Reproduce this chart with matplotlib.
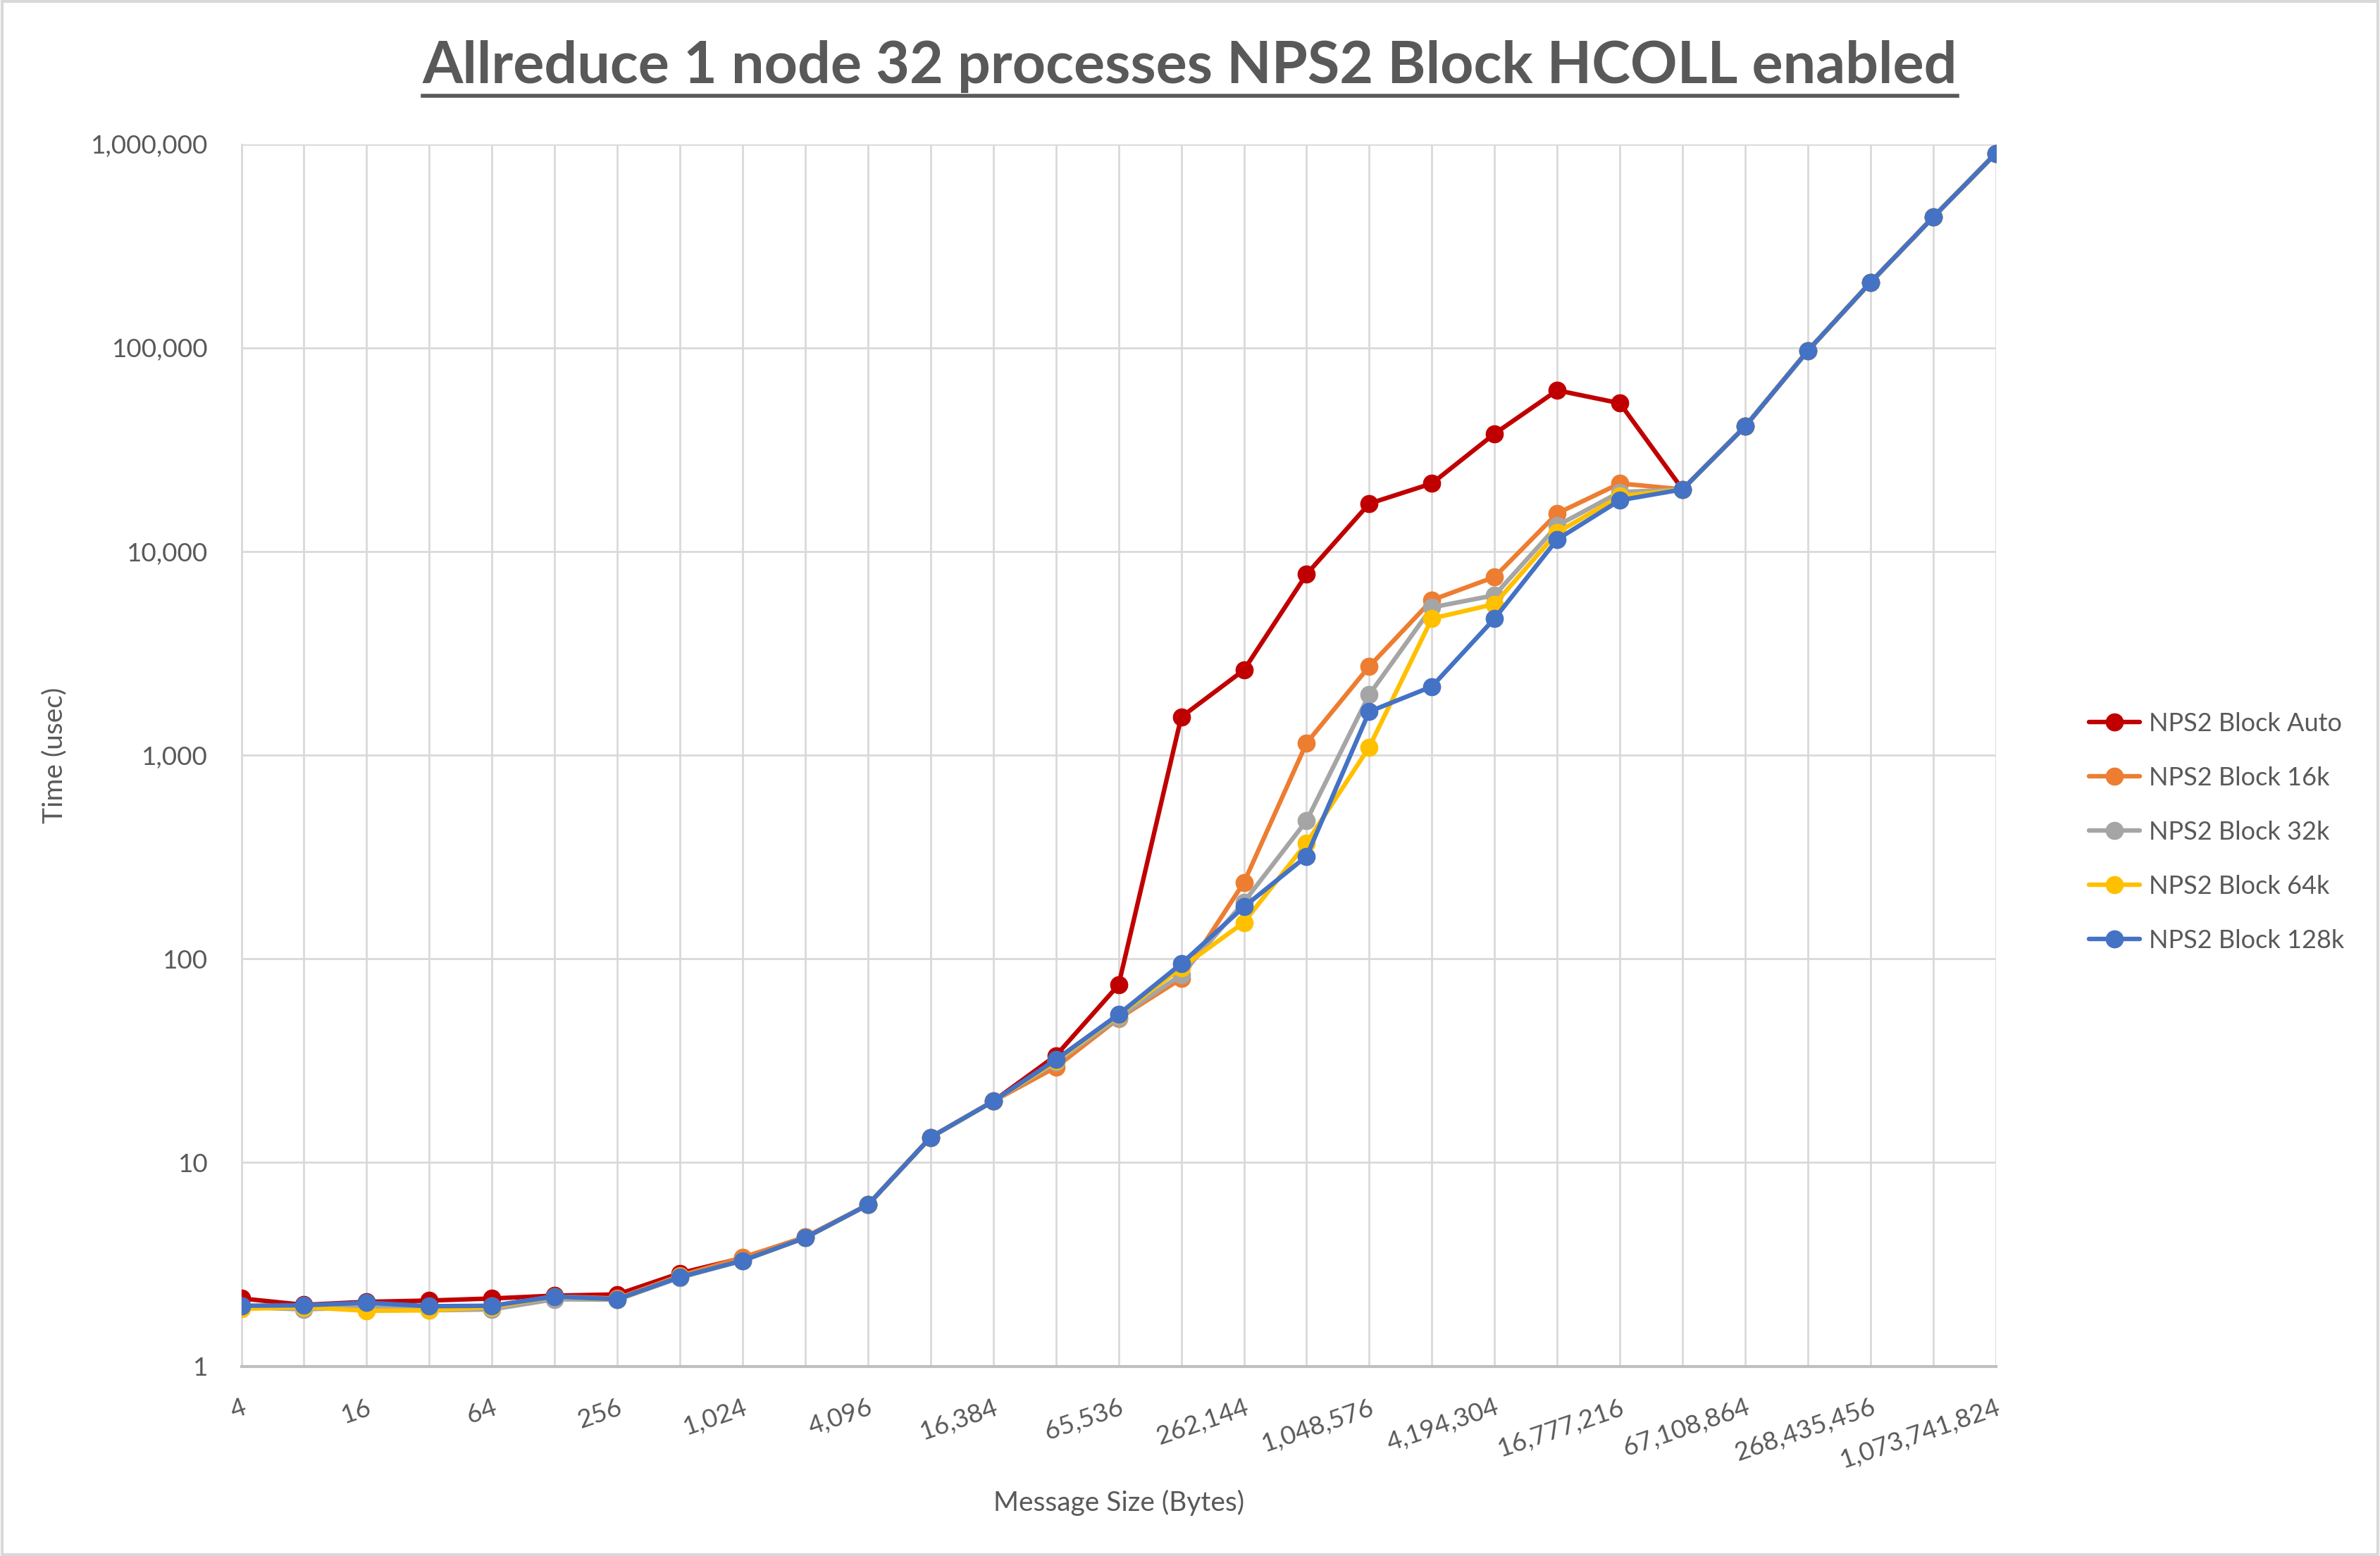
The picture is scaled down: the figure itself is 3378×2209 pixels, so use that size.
import matplotlib
matplotlib.use('Agg')
from matplotlib import pyplot as plt
from matplotlib.ticker import FixedLocator, FuncFormatter, NullLocator, NullFormatter
from matplotlib.patches import Rectangle

# message sizes 4 .. 1 GiB
sizes = [2 ** k for k in range(2, 31)]

auto = [2.15, 2.0, 2.07, 2.1, 2.15, 2.22, 2.25, 2.86, 3.4, 4.3, 6.2, 13.3, 20, 33.5, 74.5,
        1540, 2620, 7740, 17200, 21600, 37900, 61900, 53500, 20200, 41200, 96900, 209800, 438500, 902000]
blk_16k = [1.97, 1.95, 1.95, 1.95, 1.97, 2.2, 2.15, 2.78, 3.42, 4.3, 6.2, 13.3, 20, 29.4, 51,
           80, 237, 1148, 2730, 5780, 7500, 15400, 21600, 20200, 41200, 96900, 209800, 438500, 902000]
blk_32k = [1.95, 1.9, 1.95, 1.88, 1.9, 2.13, 2.12, 2.72, 3.3, 4.27, 6.2, 13.3, 20, 31, 51.5,
           83.5, 190, 477, 1985, 5320, 6100, 13400, 19600, 20200, 41200, 96900, 209800, 438500, 902000]
blk_64k = [1.91, 1.95, 1.87, 1.88, 1.95, 2.2, 2.12, 2.75, 3.3, 4.27, 6.2, 13.3, 20, 31.5, 53,
           90.4, 151, 371, 1096, 4690, 5520, 12400, 18700, 20200, 41200, 96900, 209800, 438500, 902000]
blk_128k = [1.98, 1.99, 2.05, 1.97, 1.98, 2.2, 2.13, 2.74, 3.3, 4.27, 6.2, 13.3, 20, 32, 53.4,
            94.6, 180, 319, 1637, 2174, 4690, 11470, 17860, 20200, 41200, 96900, 209800, 438500, 902000]

series = [('NPS2 Block Auto', auto, '#C00000'),
          ('NPS2 Block 16k', blk_16k, '#ED7D31'),
          ('NPS2 Block 32k', blk_32k, '#A5A5A5'),
          ('NPS2 Block 64k', blk_64k, '#FFC000'),
          ('NPS2 Block 128k', blk_128k, '#4472C4')]

plt.rcParams['font.family'] = ['Lato', 'DejaVu Sans']
text_color = '#595959'

fig = plt.figure(figsize=(33.78, 22.09), dpi=100)
ax = fig.add_axes([0.1014, 0.122, 0.7372, 0.7853])

for name, vals, color in series:
    ax.plot(sizes, vals, color=color, lw=4.6, marker='o', markersize=17.5, label=name,
            solid_capstyle='round', zorder=3)

ax.set_xscale('log', base=2)
ax.set_yscale('log')
ax.set_xlim(4, 2 ** 30)
ax.set_ylim(1, 1e6)

ax.xaxis.set_major_locator(FixedLocator([4 ** k for k in range(1, 16)]))
ax.xaxis.set_minor_locator(FixedLocator([2 ** k for k in range(3, 30, 2)]))
ax.xaxis.set_minor_formatter(NullFormatter())
ax.yaxis.set_major_locator(FixedLocator([10 ** k for k in range(7)]))
ax.yaxis.set_minor_locator(NullLocator())
ax.yaxis.set_minor_formatter(NullFormatter())
ax.xaxis.set_major_formatter(FuncFormatter(lambda v, p: f'{int(round(v)):,}'))
ax.yaxis.set_major_formatter(FuncFormatter(lambda v, p: f'{int(round(v)):,}'))

ax.grid(True, which='both', axis='x', color='#D9D9D9', lw=2)
ax.grid(True, which='major', axis='y', color='#D9D9D9', lw=2)
for s in ['top', 'right']:
    ax.spines[s].set_visible(False)
ax.spines['left'].set_color('#D9D9D9')
ax.spines['left'].set_linewidth(2)
ax.spines['bottom'].set_color('#BFBFBF')
ax.spines['bottom'].set_linewidth(3)
ax.tick_params(axis='both', which='both', length=0, labelsize=26.5, colors=text_color)
ax.tick_params(axis='y', pad=34)
ax.tick_params(axis='x', pad=30)
for lab in ax.get_xticklabels():
    lab.set_rotation(19)
    lab.set_ha('right')
    lab.set_va('top')
    lab.set_rotation_mode('anchor')

ax.set_xlabel('Message Size (Bytes)', fontsize=28, color=text_color, labelpad=18)
ax.set_ylabel('Time (usec)', fontsize=28, color=text_color, labelpad=24)

title = fig.text(0.5, 0.957, 'Allreduce 1 node 32 processes NPS2 Block HCOLL enabled',
                 ha='center', va='center', fontsize=59.5, fontweight='bold', color=text_color)

leg = ax.legend(loc='center left', bbox_to_anchor=(1.04, 0.437), frameon=False, fontsize=26,
                labelcolor=text_color, handlelength=2.0, labelspacing=1.22, handletextpad=0.35)

# underline the title across its own width
fig.canvas.draw()
bb = title.get_window_extent().transformed(fig.transFigure.inverted())
fig.add_artist(plt.Line2D([bb.x0, bb.x1], [0.9385, 0.9385], transform=fig.transFigure,
                          color=text_color, lw=4))

fig.add_artist(Rectangle((0.001, 0.001), 0.998, 0.998, transform=fig.transFigure,
                         fill=False, edgecolor='#D9D9D9', lw=3))

fig.savefig('out.png', dpi=100, facecolor='white')
